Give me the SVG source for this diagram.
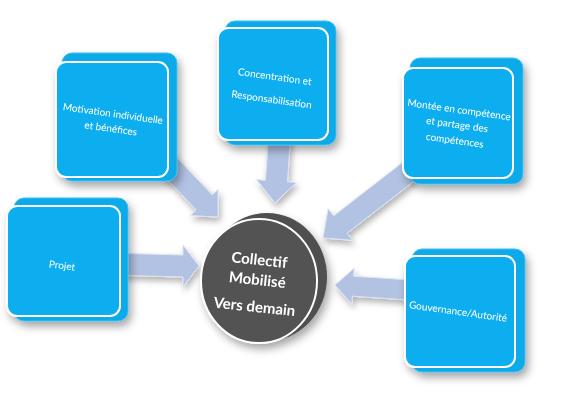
<svg xmlns="http://www.w3.org/2000/svg" width="565" height="404" viewBox="0 0 565 404">
<defs>
<filter id="sh" x="-20%" y="-20%" width="150%" height="150%"><feDropShadow dx="3" dy="5" stdDeviation="4" flood-color="#000" flood-opacity="0.35"/></filter>
<filter id="ash" x="-20%" y="-20%" width="150%" height="150%"><feDropShadow dx="2" dy="4" stdDeviation="3" flood-color="#000" flood-opacity="0.3"/></filter>
</defs>
<style>
.back{fill:#0aaaea;stroke:#40bff2;stroke-width:1}
.front{fill:#10aeef;stroke:#ffffff;stroke-width:2}
.t{font-family:Lato,"Open Sans",sans-serif;font-size:10px;fill:#ffffff;text-anchor:middle}
.arrow{fill:#b2c2e2;stroke:#dde5f3;stroke-width:1}
.disc{fill:#505050}
.face{fill:#525252;stroke:#ffffff;stroke-width:2}
.ct{font-family:Lato,"Open Sans",sans-serif;font-weight:bold;font-size:15px;fill:#ffffff;text-anchor:middle}
</style>
<rect width="565" height="404" fill="#ffffff"/>
<g id="connectors" filter="url(#ash)">
<polygon class="arrow" points="110,253 183,255 183,245 199,266 183,287 183,277 110,275"/>
<polygon class="arrow" points="171,151.4 212.3,194.9 218.1,189.5 218,217 190.5,215.6 196.3,210.1 155,166.6"/>
<polygon class="arrow" points="291,130.7 287.5,181.7 296.5,182.4 275,203 256.5,179.6 265.5,180.3 269,129.3"/>
<polygon class="arrow" points="403.2,161.9 333.7,215.8 328.1,208.7 323,238 352.7,240.3 347.1,233.2 416.6,179.3"/>
<polygon class="arrow" points="410.7,280 353.7,276.2 354.2,268.2 335,285 351.8,304.2 352.3,296.2 409.3,300"/>
</g>
<g id="node-projet" filter="url(#sh)">
<rect class="back" x="14" y="198" width="114" height="123" rx="10"/>
<rect class="front" x="7" y="206" width="113" height="110" rx="10"/>
<text class="t" x="62" y="269" transform="rotate(7 62 266)">Projet</text>
</g>
<g id="node-motivation" filter="url(#sh)">
<rect class="back" x="62" y="53" width="115" height="128" rx="10"/>
<rect class="front" x="56" y="62" width="112" height="115" rx="10"/>
<text class="t" transform="rotate(8 112 120)"><tspan x="112" y="117">Motivation individuelle</tspan><tspan x="112" y="132">et bénéfices</tspan></text>
</g>
<g id="node-concentration" filter="url(#sh)">
<rect class="back" x="225" y="21" width="111" height="124" rx="10"/>
<rect class="front" x="218" y="28" width="110" height="112" rx="10"/>
<text class="t" transform="rotate(8 273 89)"><tspan x="273" y="80">Concentration et</tspan><tspan x="273" y="103">Responsabilisation</tspan></text>
</g>
<g id="node-montee" filter="url(#sh)">
<rect class="back" x="410" y="58" width="113" height="126" rx="10"/>
<rect class="front" x="403" y="68" width="110" height="110" rx="10"/>
<text class="t" transform="rotate(8 457 125)"><tspan x="457" y="113">Montée en compétence</tspan><tspan x="457" y="128">et partage des</tspan><tspan x="457" y="144">compétences</tspan></text>
</g>
<g id="node-gouvernance" filter="url(#sh)">
<rect class="back" x="412" y="249" width="113" height="123" rx="10"/>
<rect class="front" x="405" y="256" width="110" height="111" rx="10"/>
<text class="t" x="458" y="315" transform="rotate(8 458 312)">Gouvernance/Autorité</text>
</g>
<g id="node-collectif" filter="url(#sh)">
<ellipse class="disc" cx="267" cy="277" rx="60" ry="64"/>
<ellipse class="face" cx="259" cy="281" rx="58" ry="62"/>
<text class="ct" transform="rotate(6 257 283)"><tspan x="257" y="265">Collectif</tspan><tspan x="257" y="285">Mobilisé</tspan><tspan x="257" y="312">Vers demain</tspan></text>
</g>
</svg>
